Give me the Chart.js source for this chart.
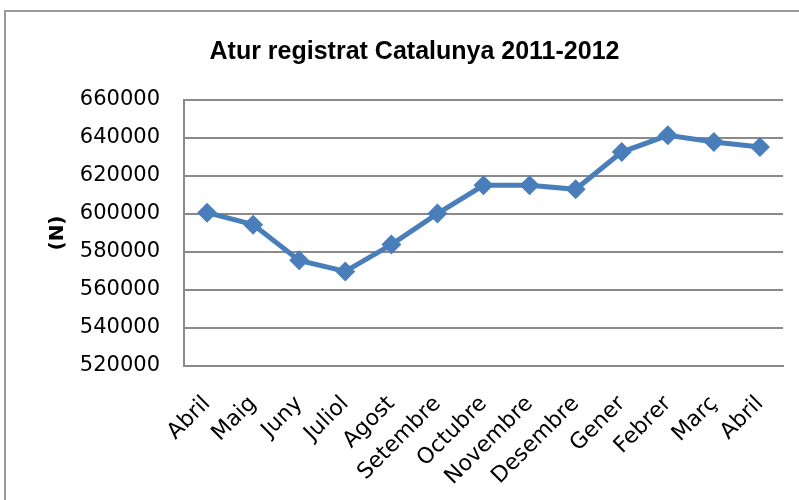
<!DOCTYPE html>
<html>
<head>
<meta charset="utf-8">
<script src="https://cdn.jsdelivr.net/npm/chart.js@4"></script>
<style>
  html, body { margin: 0; padding: 0; background: #fff; overflow: hidden; }
  #wrap { position: relative; width: 799px; height: 500px; }
  #frame { position: absolute; left: 4px; top: 10px; width: 900px; height: 600px;
           border: 2px solid #9a9a9a; box-sizing: border-box; }
  #chart { position: absolute; left: 0; top: 0; }
</style>
</head>
<body>
<div id="wrap">
  <div id="frame"></div>
  <canvas id="chart" width="799" height="500"></canvas>
</div>
<script>
// ===== DATA =====
const months = ['Abril', 'Maig', 'Juny', 'Juliol', 'Agost', 'Setembre', 'Octubre',
  'Novembre', 'Desembre', 'Gener', 'Febrer', 'Març', 'Abril'];

// atur registrat (persones), llegit del gràfic
const atur = [600700, 594400, 575600, 569800, 583900, 600200, 615100,
  615100, 613000, 632600, 641400, 637900, 635300];

const yTicks = [520000, 540000, 560000, 580000, 600000, 620000, 640000, 660000];

const titleText = 'Atur registrat Catalunya 2011-2012';
const yTitle = '(N)';

// ===== CHART =====
const gridColor = '#8a8a8a';
const blue = '#4a7ebb';

new Chart(document.getElementById('chart'), {
  type: 'line',
  data: {
    labels: months,
    datasets: [{
      label: 'Atur',
      data: atur,
      borderColor: blue,
      backgroundColor: blue,
      borderWidth: 5,
      tension: 0,
      pointStyle: 'rectRot',
      pointRadius: 10,
      pointBackgroundColor: blue,
      pointBorderWidth: 0
    }]
  },
  options: {
    responsive: false,
    animation: false,
    layout: { padding: { left: 46, right: 16, top: 0, bottom: 0 } },
    plugins: {
      legend: { display: false },
      tooltip: { enabled: false },
      title: {
        display: true,
        text: titleText,
        color: '#000',
        font: { family: 'Liberation Sans', size: 25, weight: 'bold' },
        padding: { top: 37, bottom: 33 }
      }
    },
    scales: {
      x: {
        offset: true,
        grid: { display: false, drawTicks: false, offset: true },
        border: { display: true, color: gridColor, width: 2 },
        ticks: {
          autoSkip: false,
          maxRotation: 45,
          minRotation: 45,
          padding: 25,
          color: '#000',
          font: { family: 'DejaVu Sans', size: 22 }
        },
        afterFit: s => { s.height = 134; s.paddingLeft = 0; s.paddingRight = 0; }
      },
      y: {
        min: yTicks[0],
        max: yTicks[yTicks.length - 1],
        afterBuildTicks: s => { s.ticks = yTicks.map(v => ({ value: v })); },
        grid: { color: gridColor, lineWidth: 2, drawTicks: false },
        border: { display: true, color: gridColor, width: 2 },
        ticks: {
          padding: 24,
          color: '#000',
          font: { family: 'DejaVu Sans', size: 21 },
          callback: v => String(v)
        },
        title: {
          display: true,
          text: yTitle,
          color: '#000',
          padding: 0,
          font: { family: 'DejaVu Sans', size: 20, weight: 'bold' }
        },
        afterFit: s => { s.width = 138; }
      }
    }
  }
});
</script>
</body>
</html>
